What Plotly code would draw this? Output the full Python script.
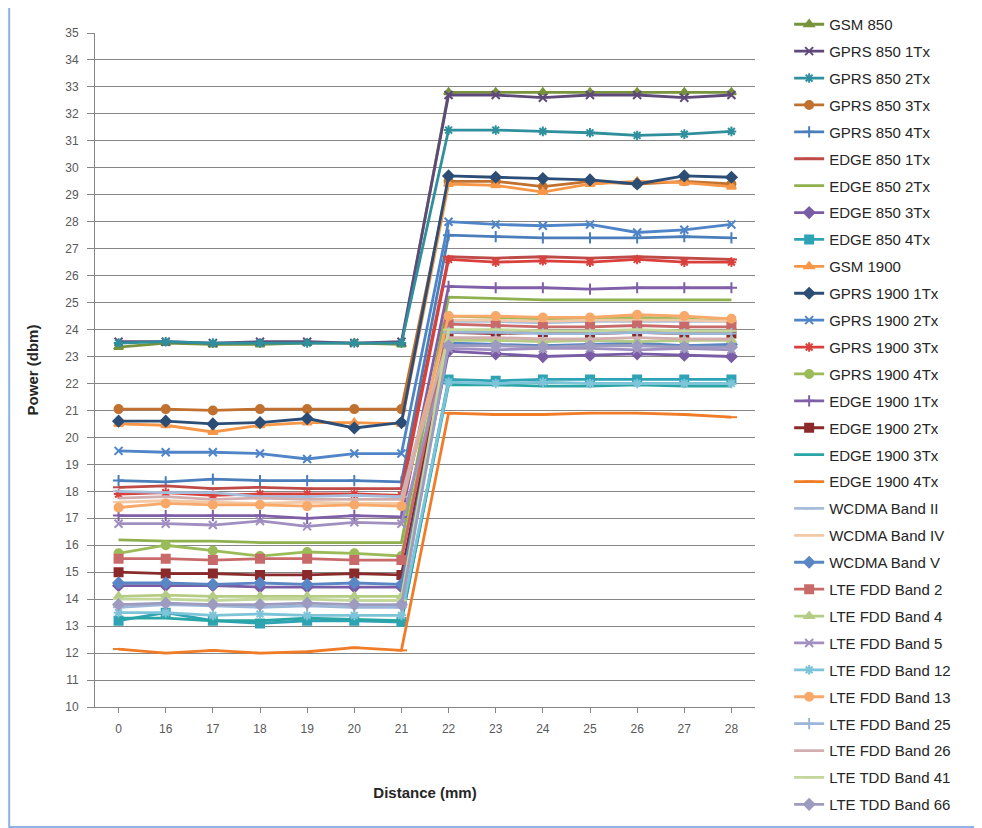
import plotly.graph_objects as go

distance_labels = ["0", "16", "17", "18", "19", "20", "21", "22", "23", "24", "25", "26", "27", "28"]

series_names = [
    "GSM 850", "GPRS 850 1Tx", "GPRS 850 2Tx", "GPRS 850 3Tx", "GPRS 850 4Tx",
    "EDGE 850 1Tx", "EDGE 850 2Tx", "EDGE 850 3Tx", "EDGE 850 4Tx", "GSM 1900",
    "GPRS 1900 1Tx", "GPRS 1900 2Tx", "GPRS 1900 3Tx", "GPRS 1900 4Tx", "EDGE 1900 1Tx",
    "EDGE 1900 2Tx", "EDGE 1900 3Tx", "EDGE 1900 4Tx", "WCDMA Band II", "WCDMA Band IV",
    "WCDMA Band V", "LTE FDD Band 2", "LTE FDD Band 4", "LTE FDD Band 5", "LTE FDD Band 12",
    "LTE FDD Band 13", "LTE FDD Band 25", "LTE FDD Band 26", "LTE TDD Band 41", "LTE TDD Band 66",
]

gsm_850 = [23.35, 23.5, 23.45, 23.45, 23.5, 23.5, 23.45, 32.8, 32.8, 32.8, 32.8, 32.8, 32.8, 32.8]
gprs_850_1tx = [23.55, 23.55, 23.5, 23.55, 23.55, 23.5, 23.55, 32.7, 32.7, 32.6, 32.7, 32.7, 32.6, 32.7]
gprs_850_2tx = [23.5, 23.55, 23.5, 23.5, 23.5, 23.5, 23.5, 31.4, 31.4, 31.35, 31.3, 31.2, 31.25, 31.35]
gprs_850_3tx = [21.05, 21.05, 21.0, 21.05, 21.05, 21.05, 21.05, 29.5, 29.5, 29.3, 29.5, 29.4, 29.5, 29.4]
gprs_850_4tx = [18.4, 18.35, 18.45, 18.4, 18.4, 18.4, 18.35, 27.5, 27.45, 27.4, 27.4, 27.4, 27.45, 27.4]
edge_850_1tx = [18.15, 18.2, 18.1, 18.15, 18.1, 18.1, 18.1, 26.7, 26.65, 26.7, 26.65, 26.7, 26.65, 26.6]
edge_850_2tx = [16.2, 16.15, 16.15, 16.1, 16.1, 16.1, 16.1, 25.2, 25.15, 25.1, 25.1, 25.1, 25.1, 25.1]
edge_850_3tx = [14.5, 14.5, 14.5, 14.45, 14.45, 14.45, 14.45, 23.2, 23.1, 23.0, 23.05, 23.1, 23.05, 23.0]
edge_850_4tx = [13.2, 13.5, 13.2, 13.1, 13.2, 13.2, 13.15, 22.15, 22.1, 22.15, 22.15, 22.15, 22.15, 22.15]
gsm_1900 = [20.5, 20.45, 20.2, 20.45, 20.55, 20.55, 20.5, 29.4, 29.35, 29.1, 29.4, 29.5, 29.45, 29.3]
gprs_1900_1tx = [20.6, 20.6, 20.5, 20.55, 20.7, 20.35, 20.55, 29.7, 29.65, 29.6, 29.55, 29.4, 29.7, 29.65]
gprs_1900_2tx = [19.5, 19.45, 19.45, 19.4, 19.2, 19.4, 19.4, 28.0, 27.9, 27.85, 27.9, 27.6, 27.7, 27.9]
gprs_1900_3tx = [17.9, 17.95, 17.85, 17.9, 17.9, 17.9, 17.85, 26.6, 26.5, 26.55, 26.5, 26.6, 26.5, 26.5]
gprs_1900_4tx = [15.7, 16.0, 15.8, 15.6, 15.75, 15.7, 15.6, 24.5, 24.45, 24.4, 24.4, 24.45, 24.4, 24.3]
edge_1900_1tx = [17.1, 17.1, 17.1, 17.1, 17.0, 17.1, 17.05, 25.6, 25.55, 25.55, 25.5, 25.55, 25.55, 25.55]
edge_1900_2tx = [15.0, 14.95, 14.95, 14.9, 14.9, 14.95, 14.9, 23.9, 23.85, 23.9, 23.85, 23.9, 23.85, 23.85]
edge_1900_3tx = [13.3, 13.3, 13.2, 13.2, 13.3, 13.25, 13.2, 21.95, 21.95, 21.9, 21.9, 21.95, 21.9, 21.9]
edge_1900_4tx = [12.15, 12.0, 12.1, 12.0, 12.05, 12.2, 12.1, 20.9, 20.85, 20.85, 20.9, 20.9, 20.85, 20.75]
wcdma_2 = [18.0, 17.95, 17.95, 17.8, 17.8, 17.85, 17.8, 24.3, 24.3, 24.25, 24.3, 24.3, 24.3, 24.3]
wcdma_4 = [17.6, 17.65, 17.6, 17.55, 17.6, 17.55, 17.55, 24.35, 24.35, 24.3, 24.35, 24.35, 24.35, 24.3]
wcdma_5 = [14.6, 14.6, 14.55, 14.6, 14.55, 14.6, 14.55, 23.5, 23.45, 23.4, 23.45, 23.5, 23.4, 23.45]
lte_fdd_2 = [15.5, 15.5, 15.45, 15.5, 15.5, 15.45, 15.45, 24.2, 24.15, 24.1, 24.1, 24.15, 24.1, 24.1]
lte_fdd_4 = [14.1, 14.15, 14.1, 14.1, 14.1, 14.1, 14.1, 23.6, 23.6, 23.55, 23.6, 23.55, 23.6, 23.6]
lte_fdd_5 = [16.8, 16.8, 16.75, 16.9, 16.7, 16.85, 16.8, 23.3, 23.25, 23.3, 23.3, 23.25, 23.3, 23.25]
lte_fdd_12 = [13.5, 13.5, 13.4, 13.45, 13.4, 13.4, 13.4, 22.05, 22.0, 22.05, 22.0, 22.0, 22.0, 22.0]
lte_fdd_13 = [17.4, 17.55, 17.5, 17.5, 17.45, 17.5, 17.45, 24.5, 24.5, 24.45, 24.45, 24.55, 24.5, 24.4]
lte_fdd_25 = [13.7, 13.8, 13.75, 13.7, 13.75, 13.7, 13.7, 23.9, 23.9, 23.85, 23.85, 23.9, 23.85, 23.85]
lte_fdd_26 = [17.75, 17.8, 17.7, 17.75, 17.7, 17.7, 17.7, 23.7, 23.7, 23.65, 23.65, 23.7, 23.65, 23.65]
lte_tdd_41 = [14.0, 14.0, 13.95, 14.0, 14.0, 13.95, 13.95, 24.0, 24.0, 23.95, 23.95, 24.0, 23.95, 23.95]
lte_tdd_66 = [13.8, 13.85, 13.8, 13.8, 13.85, 13.8, 13.8, 23.4, 23.4, 23.35, 23.4, 23.4, 23.35, 23.35]

series_values = [
    gsm_850, gprs_850_1tx, gprs_850_2tx, gprs_850_3tx, gprs_850_4tx,
    edge_850_1tx, edge_850_2tx, edge_850_3tx, edge_850_4tx, gsm_1900,
    gprs_1900_1tx, gprs_1900_2tx, gprs_1900_3tx, gprs_1900_4tx, edge_1900_1tx,
    edge_1900_2tx, edge_1900_3tx, edge_1900_4tx, wcdma_2, wcdma_4,
    wcdma_5, lte_fdd_2, lte_fdd_4, lte_fdd_5, lte_fdd_12,
    lte_fdd_13, lte_fdd_25, lte_fdd_26, lte_tdd_41, lte_tdd_66,
]

y_ticks = list(range(10, 36))

colors = [
    "#77933c", "#5f497a", "#2f8f9d", "#c0712f", "#4a7ebb",
    "#be4b48", "#8fb04f", "#7a5ca6", "#2ea3b5", "#f79646",
    "#2c4d75", "#4f85c8", "#d9403c", "#9bbb59", "#7f5fa8",
    "#8b2a2a", "#2aa5a5", "#f07c28", "#a7bedb", "#f2c9a6",
    "#5b86c4", "#c96a6a", "#b5cc84", "#a08fc0", "#7ec4d8",
    "#f8a868", "#9cb6d8", "#d2afae", "#c4d79b", "#9d9bbf",
]

symbols = [
    "triangle-up", "x-thin-open", "asterisk-open", "circle", "cross-thin-open",
    "line-ew-open", None, "diamond", "square", "triangle-up",
    "diamond", "x-thin-open", "asterisk-open", "circle", "cross-thin-open",
    "square", None, "line-ew-open", "line-ew-open", "line-ew-open",
    "diamond", "square", "triangle-up", "x-thin-open", "asterisk-open",
    "circle", "cross-thin-open", None, "line-ew-open", "diamond",
]

x_idx = list(range(len(distance_labels)))

fig = go.Figure()
for i, (name, vals) in enumerate(zip(series_names, series_values)):
    sym = symbols[i]
    marker = dict(color=colors[i], size=8, line=dict(color=colors[i], width=2))
    if sym is None:
        mode = "lines"
    else:
        mode = "lines+markers"
        marker["symbol"] = sym
    fig.add_trace(go.Scatter(
        x=x_idx, y=vals, name=name, mode=mode, legendgroup=name,
        line=dict(color=colors[i], width=2.8),
        marker=marker,
    ))

fig.update_layout(
    width=974, height=820,
    margin=dict(l=87, r=227, t=25, b=121, autoexpand=False),
    paper_bgcolor="white", plot_bgcolor="white",
    font=dict(family="Liberation Sans, Arial, sans-serif", color="#404040"),
    showlegend=True,
    legend=dict(
        xref="container", yref="container",
        x=0.802, y=1.0, xanchor="left", yanchor="top",
        font=dict(size=15, color="#262626"),
        tracegroupgap=4.4, itemwidth=30,
        maxheight=1200,
        bgcolor="rgba(0,0,0,0)",
    ),
    xaxis=dict(
        tickmode="array", tickvals=x_idx, ticktext=distance_labels,
        range=[-0.5, len(distance_labels) - 0.5],
        showgrid=False, showline=True, linecolor="#868686", linewidth=1,
        ticks="outside", ticklen=5, tickcolor="#868686",
        ticklabelstandoff=6,
        tickfont=dict(size=12, color="#595959"),
        title=dict(text="<b>Distance (mm)</b>", font=dict(size=15, color="#262626"), standoff=52),
        zeroline=False,
    ),
    yaxis=dict(
        range=[10, 35], tickvals=y_ticks, ticktext=[str(v) for v in y_ticks],
        showgrid=True, gridcolor="#868686", gridwidth=1,
        showline=True, linecolor="#868686", linewidth=1,
        ticks="outside", ticklen=7, tickcolor="#868686",
        ticklabelstandoff=6,
        tickfont=dict(size=12, color="#595959"),
        title=dict(text="<b>Power (dbm)</b>", font=dict(size=15, color="#262626"), standoff=22),
        zeroline=False,
    ),
    shapes=[dict(
        type="rect", xref="paper", yref="paper",
        x0=-0.13, x1=1.341, y0=-0.178, y1=1.0386,
        line=dict(color="#8db3e2", width=2), fillcolor="rgba(0,0,0,0)", layer="below",
    )],
)

fig.write_html("out.html")
